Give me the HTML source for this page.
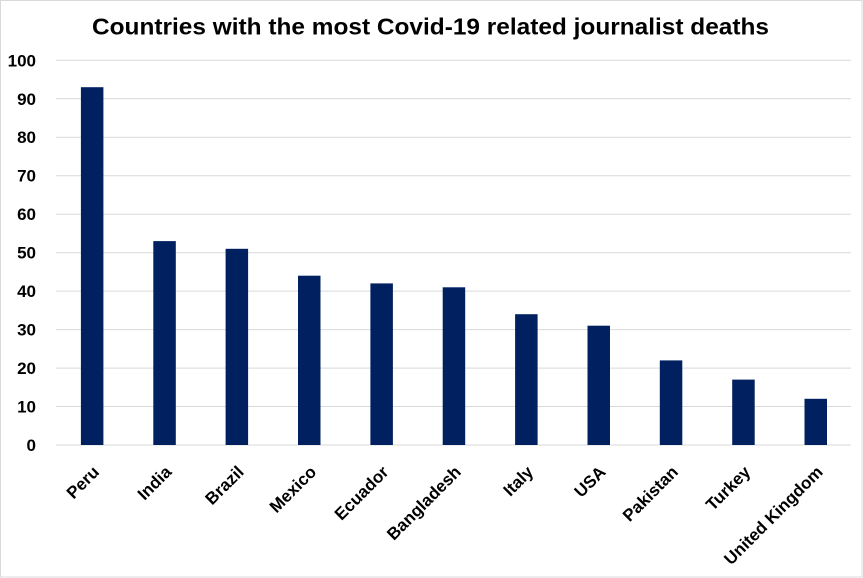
<!DOCTYPE html>
<html><head><meta charset="utf-8"><style>
html,body{margin:0;padding:0;background:#fff;}
svg{display:block;}
text{font-family:"Liberation Sans",Arial,sans-serif;font-weight:bold;fill:#000;}
</style></head><body>
<svg width="863" height="578" viewBox="0 0 863 578" xmlns="http://www.w3.org/2000/svg">
<rect x="0.5" y="0.5" width="861.5" height="576.5" fill="#fff" stroke="#d9d9d9" stroke-width="1"/>
<text x="92" y="34.5" font-size="23" textLength="677" lengthAdjust="spacingAndGlyphs">Countries with the most Covid-19 related journalist deaths</text>
<g stroke="#d9d9d9" stroke-width="1">
<line x1="56" x2="851" y1="445" y2="445"/>
<line x1="56" x2="851" y1="406.5" y2="406.5"/>
<line x1="56" x2="851" y1="368.1" y2="368.1"/>
<line x1="56" x2="851" y1="329.6" y2="329.6"/>
<line x1="56" x2="851" y1="291.1" y2="291.1"/>
<line x1="56" x2="851" y1="252.7" y2="252.7"/>
<line x1="56" x2="851" y1="214.2" y2="214.2"/>
<line x1="56" x2="851" y1="175.7" y2="175.7"/>
<line x1="56" x2="851" y1="137.2" y2="137.2"/>
<line x1="56" x2="851" y1="98.8" y2="98.8"/>
<line x1="56" x2="851" y1="60.3" y2="60.3"/>
</g>
<g font-size="17" text-anchor="end">
<text x="36" y="451">0</text>
<text x="36" y="412.5">10</text>
<text x="36" y="374.1">20</text>
<text x="36" y="335.6">30</text>
<text x="36" y="297.1">40</text>
<text x="36" y="258.7">50</text>
<text x="36" y="220.2">60</text>
<text x="36" y="181.7">70</text>
<text x="36" y="143.2">80</text>
<text x="36" y="104.8">90</text>
<text x="36" y="66.3">100</text>
</g>
<g fill="#002060">
<rect x="80.9" y="87.2" width="22.5" height="357.8"/>
<rect x="153.3" y="241.1" width="22.5" height="203.9"/>
<rect x="225.6" y="248.8" width="22.5" height="196.2"/>
<rect x="298.0" y="275.7" width="22.5" height="169.3"/>
<rect x="370.4" y="283.4" width="22.5" height="161.6"/>
<rect x="442.7" y="287.3" width="22.5" height="157.7"/>
<rect x="515.1" y="314.2" width="22.5" height="130.8"/>
<rect x="587.5" y="325.7" width="22.5" height="119.3"/>
<rect x="659.8" y="360.4" width="22.5" height="84.6"/>
<rect x="732.2" y="379.6" width="22.5" height="65.4"/>
<rect x="804.5" y="398.8" width="22.5" height="46.2"/>
</g>
<g font-size="17" text-anchor="end">
<text x="100.2" y="473" transform="rotate(-45 100.2 473)">Peru</text>
<text x="172.5" y="473" transform="rotate(-45 172.5 473)">India</text>
<text x="244.9" y="473" transform="rotate(-45 244.9 473)">Brazil</text>
<text x="317.3" y="473" transform="rotate(-45 317.3 473)">Mexico</text>
<text x="389.6" y="473" transform="rotate(-45 389.6 473)">Ecuador</text>
<text x="462" y="473" transform="rotate(-45 462 473)">Bangladesh</text>
<text x="534.3" y="473" transform="rotate(-45 534.3 473)">Italy</text>
<text x="606.7" y="473" transform="rotate(-45 606.7 473)">USA</text>
<text x="679.1" y="473" transform="rotate(-45 679.1 473)">Pakistan</text>
<text x="751.4" y="473" transform="rotate(-45 751.4 473)">Turkey</text>
<text x="823.8" y="473" transform="rotate(-45 823.8 473)">United Kingdom</text>
</g>
</svg>
</body></html>
